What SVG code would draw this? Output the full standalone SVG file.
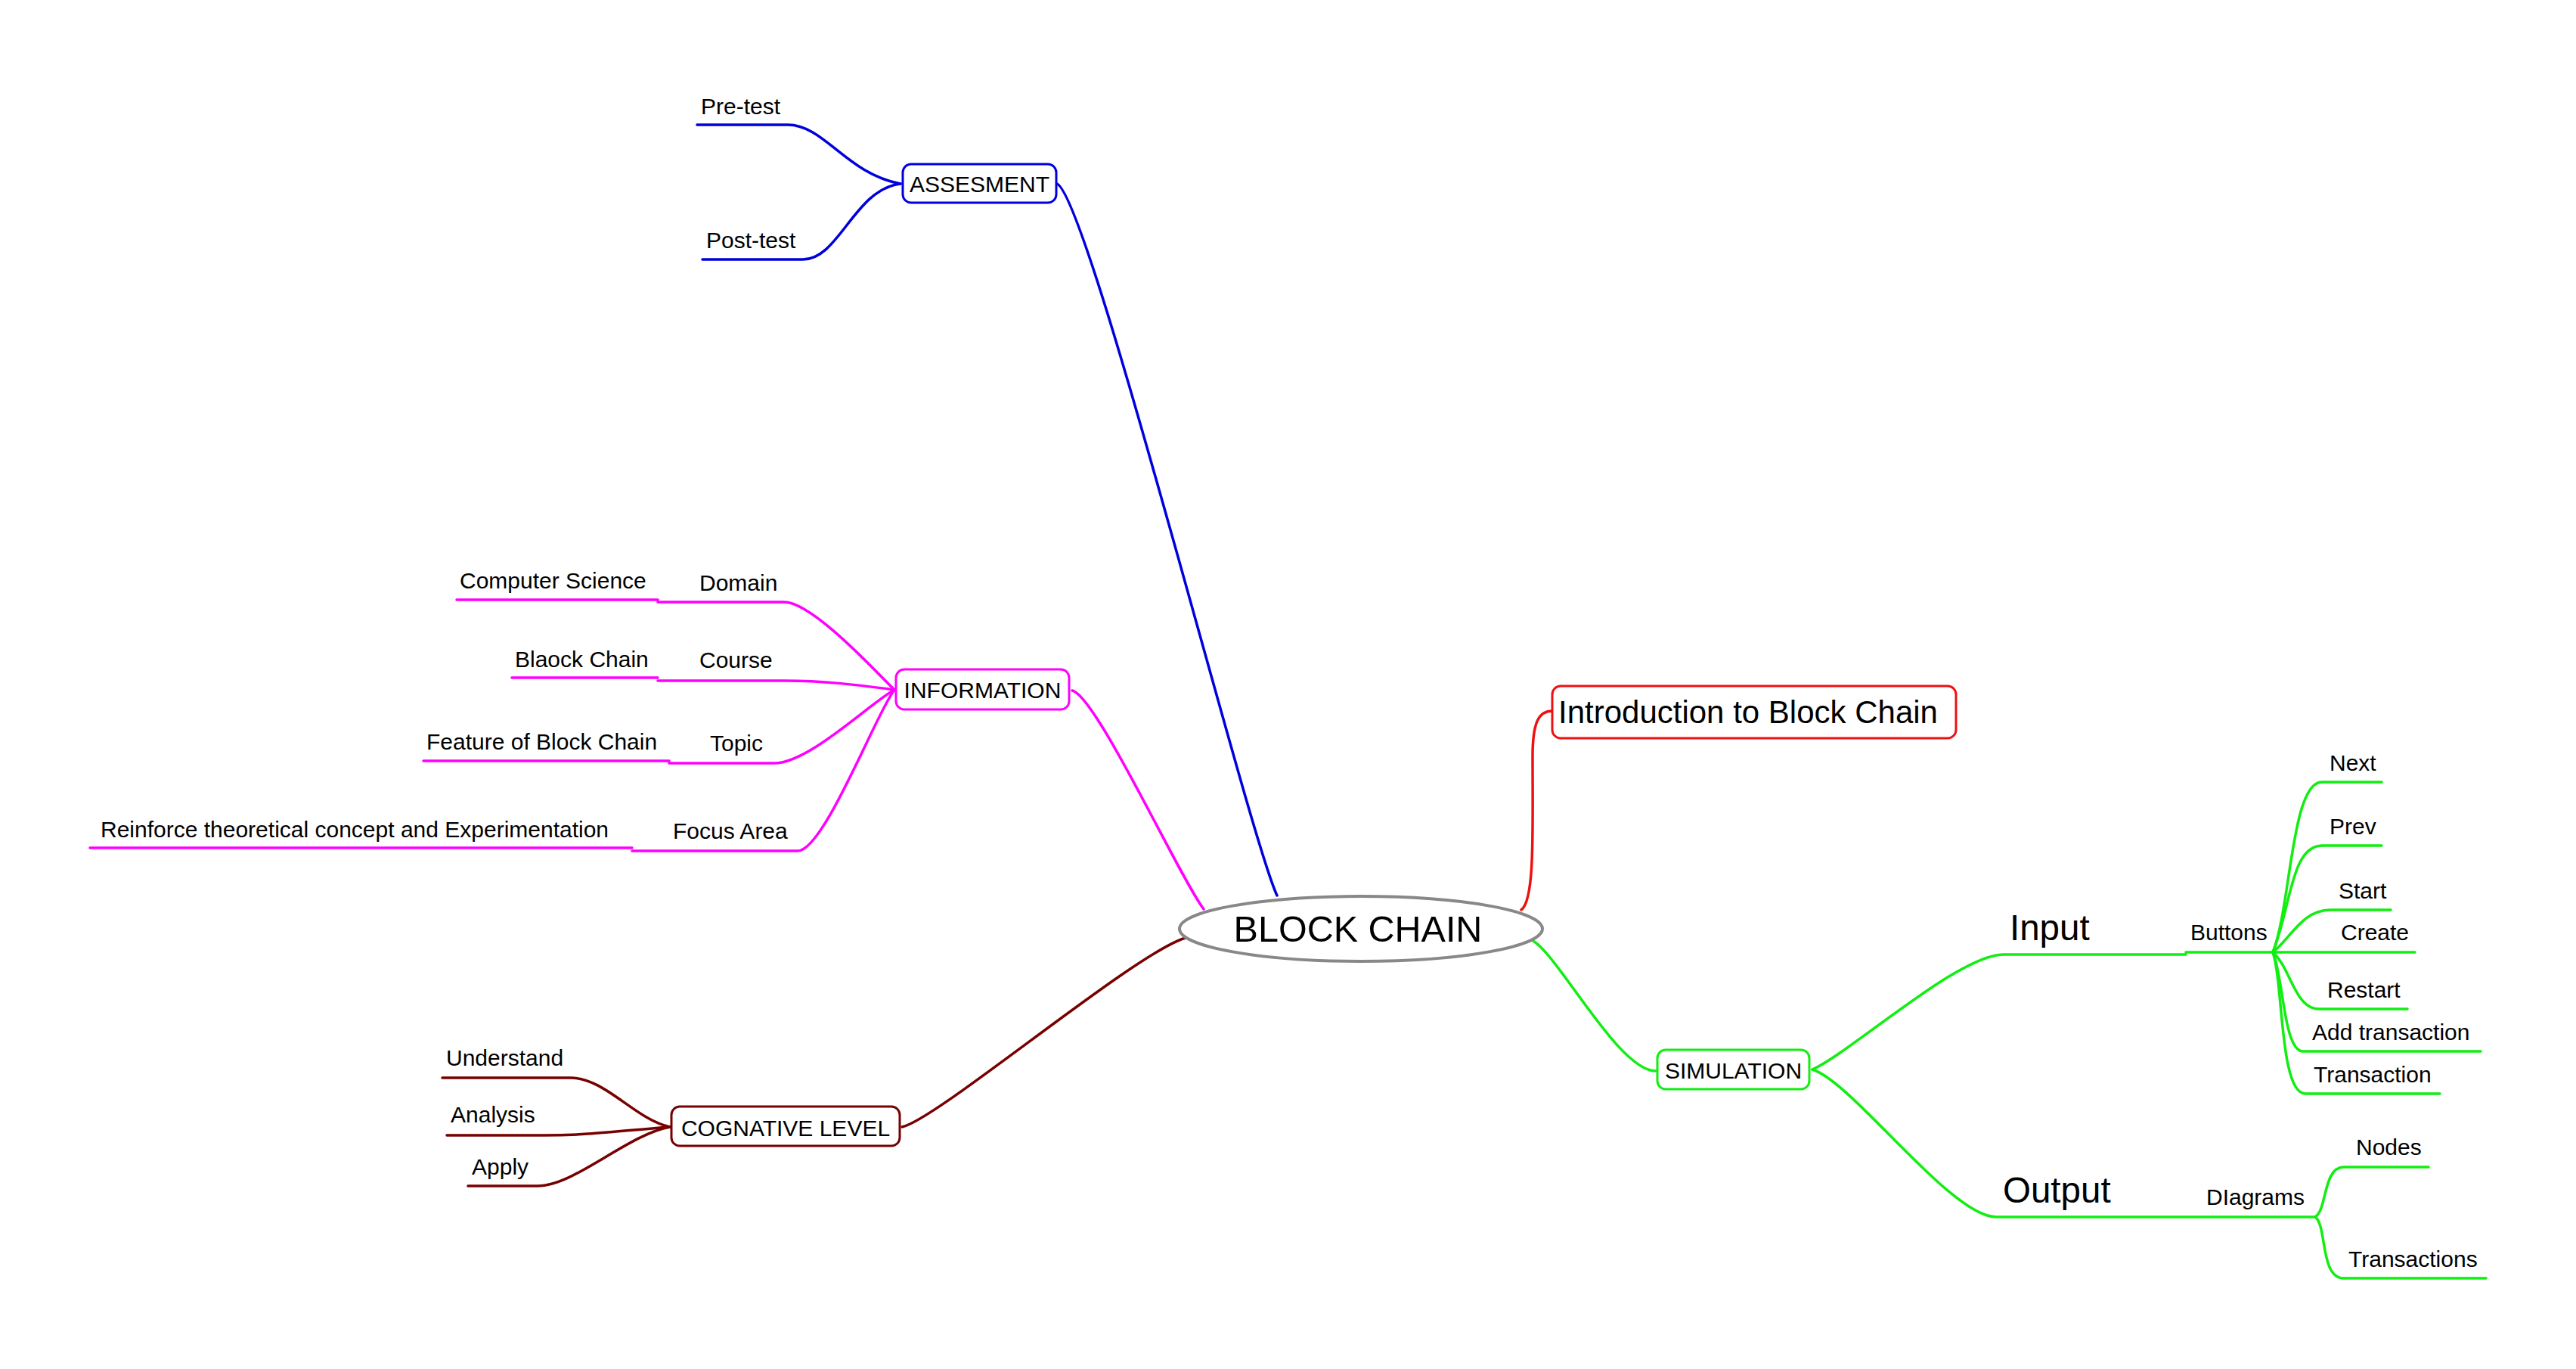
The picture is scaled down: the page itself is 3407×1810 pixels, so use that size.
<svg xmlns="http://www.w3.org/2000/svg" width="3407" height="1810" viewBox="0 0 3407 1810">
<style>
text{font-family:"Liberation Sans",Arial,sans-serif;fill:#000}
.t{font-size:30px}
.b{font-size:30px}
.big{font-size:47.5px}
.c{fill:none;stroke-width:3.5;stroke-linecap:round;stroke-linejoin:round}
.box{fill:#fff;stroke-width:3}
.blue{stroke:#0000dd}
.mag{stroke:#ff00ff}
.red{stroke:#ee1111}
.grn{stroke:#11ee11}
.drd{stroke:#770000}
</style>
<rect width="3407" height="1810" fill="#fff"/>
<g id="connectors">
<path class="c blue" d="M1398 243 C1440 260 1650 1100 1689 1184"/>
<path class="c blue" d="M1191 243 C1120 230 1090 165 1042 165 L922 165"/>
<path class="c blue" d="M1191 243 C1130 250 1110 343 1062 343 L929 343"/>
<path class="c mag" d="M1418 913 C1450 920 1560 1160 1592 1202"/>
<path class="c mag" d="M1183 912 C1160 890 1075 796 1037 796 L870 796 M870 793 L604 793"/>
<path class="c mag" d="M1183 912 C1130 905 1090 900 1037 900 L870 900 M870 896 L677 896"/>
<path class="c mag" d="M1183 912 C1150 930 1070 1009 1024 1009 L885 1009 M885 1006 L560 1006"/>
<path class="c mag" d="M1183 912 C1160 940 1090 1125 1055 1125 L836 1125 M836 1121 L119 1121"/>
<path class="c drd" d="M1193 1490 C1240 1480 1500 1260 1568 1240"/>
<path class="c drd" d="M886 1490 C840 1480 800 1425 755 1425 L585 1425"/>
<path class="c drd" d="M886 1490 C820 1495 780 1501 720 1501 L591 1501"/>
<path class="c drd" d="M886 1490 C830 1500 760 1568 711 1568 L619 1568"/>
<path class="c red" d="M2012 1203 C2030 1190 2027 1100 2027 1000 C2027 955 2035 940 2053 940"/>
<path class="c grn" d="M2026 1243 C2060 1260 2140 1416 2190 1416"/>
<path class="c grn" d="M2397 1414 C2450 1390 2590 1262 2650 1262 L2891 1262 M2891 1259 L3006 1259"/>
<path class="c grn" d="M2397 1414 C2450 1430 2580 1609 2640 1609 L3062 1609"/>
<path class="c grn" d="M3006 1259 C3030 1200 3030 1034 3071 1034 L3150 1034"/>
<path class="c grn" d="M3006 1259 C3030 1200 3030 1118 3071 1118 L3150 1118"/>
<path class="c grn" d="M3006 1259 C3030 1240 3045 1203 3082 1203 L3162 1203"/>
<path class="c grn" d="M3006 1259 L3194 1259"/>
<path class="c grn" d="M3006 1259 C3030 1280 3035 1334 3067 1334 L3184 1334"/>
<path class="c grn" d="M3006 1259 C3020 1290 3020 1390 3046 1390 L3281 1390"/>
<path class="c grn" d="M3006 1259 C3020 1300 3015 1446 3049 1446 L3227 1446"/>
<path class="c grn" d="M3062 1609 C3078 1600 3072 1543 3100 1543 L3212 1543"/>
<path class="c grn" d="M3062 1609 C3078 1620 3068 1690 3100 1690 L3288 1690"/>
</g>
<g id="center">
<ellipse cx="1800" cy="1228" rx="240" ry="43" fill="#fff" stroke="#888" stroke-width="4"/>
<text x="1796" y="1245" text-anchor="middle" style="font-size:48.5px">BLOCK CHAIN</text>
</g>
<g id="assesment">
<rect class="box blue" x="1194" y="217" width="203" height="51" rx="11"/>
<text class="b" x="1295.5" y="254" text-anchor="middle">ASSESMENT</text>
</g>
<g id="pretest"><text class="t" x="927" y="151">Pre-test</text></g>
<g id="posttest"><text class="t" x="934" y="328">Post-test</text></g>
<g id="information">
<rect class="box mag" x="1185" y="885" width="229" height="53" rx="11"/>
<text class="b" x="1299.5" y="923" text-anchor="middle">INFORMATION</text>
</g>
<g id="domain"><text class="t" x="925" y="781">Domain</text></g>
<g id="cs"><text class="t" x="608" y="778">Computer Science</text></g>
<g id="course"><text class="t" x="925" y="883">Course</text></g>
<g id="blaock"><text class="t" x="681" y="882">Blaock Chain</text></g>
<g id="topic"><text class="t" x="939" y="993">Topic</text></g>
<g id="feature"><text class="t" x="564" y="991">Feature of Block Chain</text></g>
<g id="focus"><text class="t" x="890" y="1109">Focus Area</text></g>
<g id="reinforce"><text class="t" x="133" y="1107">Reinforce theoretical concept and Experimentation</text></g>
<g id="cognative">
<rect class="box drd" x="888" y="1463" width="302" height="52" rx="11"/>
<text class="b" x="1039" y="1502" text-anchor="middle">COGNATIVE LEVEL</text>
</g>
<g id="understand"><text class="t" x="590" y="1409">Understand</text></g>
<g id="analysis"><text class="t" x="596" y="1484">Analysis</text></g>
<g id="apply"><text class="t" x="624" y="1553">Apply</text></g>
<g id="intro">
<rect class="box red" x="2053" y="907" width="534" height="69" rx="11"/>
<text x="2061" y="956" style="font-size:42px">Introduction to Block Chain</text>
</g>
<g id="simulation">
<rect class="box grn" x="2192" y="1388" width="201" height="52" rx="11"/>
<text class="b" x="2292.5" y="1426" text-anchor="middle">SIMULATION</text>
</g>
<g id="input"><text class="big" x="2658" y="1243">Input</text></g>
<g id="output"><text class="big" x="2649" y="1590">Output</text></g>
<g id="buttons"><text class="t" x="2897" y="1243">Buttons</text></g>
<g id="diagrams"><text class="t" x="2918" y="1593">DIagrams</text></g>
<g id="next"><text class="t" x="3081" y="1019">Next</text></g>
<g id="prev"><text class="t" x="3081" y="1103">Prev</text></g>
<g id="start"><text class="t" x="3093" y="1188">Start</text></g>
<g id="create"><text class="t" x="3096" y="1243">Create</text></g>
<g id="restart"><text class="t" x="3078" y="1319">Restart</text></g>
<g id="addtx"><text class="t" x="3058" y="1375">Add transaction</text></g>
<g id="transaction"><text class="t" x="3060" y="1431">Transaction</text></g>
<g id="nodes"><text class="t" x="3116" y="1527">Nodes</text></g>
<g id="transactions"><text class="t" x="3106" y="1675">Transactions</text></g>
</svg>
